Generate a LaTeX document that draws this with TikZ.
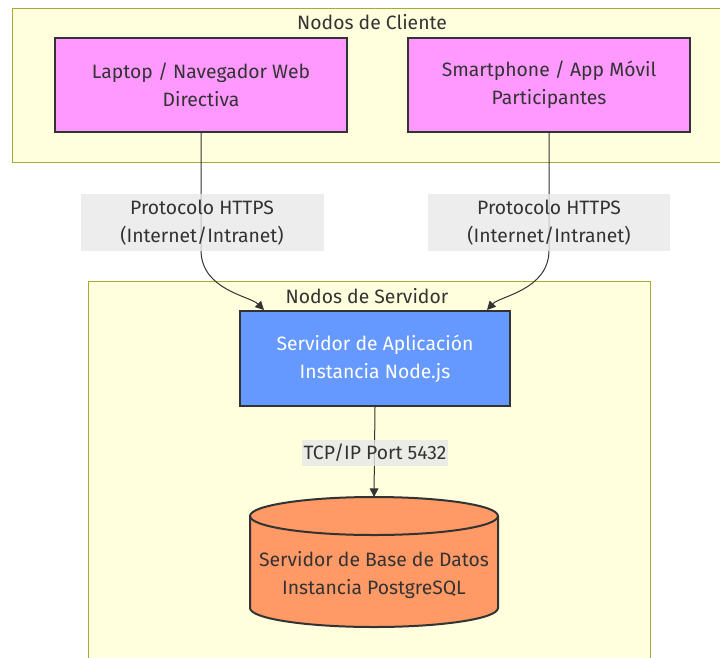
\documentclass[tikz,border=0pt]{standalone}
\usepackage{fontspec}
\setmainfont{Fira Sans}
\usetikzlibrary{arrows.meta,calc}
\definecolor{clusterfill}{HTML}{FFFFDE}
\definecolor{clusterline}{HTML}{AAAA33}
\definecolor{clientfill}{HTML}{FF99FF}
\definecolor{appfill}{HTML}{6699FF}
\definecolor{dbfill}{HTML}{FF9966}
\definecolor{darkline}{HTML}{333333}
\definecolor{labelfill}{HTML}{E8E8E8}
\tikzset{
  cluster/.style={draw=clusterline, fill=clusterfill, line width=0.75pt},
  title/.style={text=darkline, font=\fontsize{14.5}{21}\selectfont},
  boxnode/.style={draw=darkline, line width=1.5pt, align=center, text=darkline,
    font=\fontsize{14.5}{21}\selectfont, inner sep=0pt},
  edgelabel/.style={fill=labelfill, fill opacity=0.8, text opacity=1, text=darkline,
    align=center, inner sep=0pt, font=\fontsize{14.5}{21}\selectfont},
  flow/.style={draw=darkline, line width=0.75pt, -{Triangle[length=6.5pt,width=6.5pt]}}
}
\begin{document}
\begin{tikzpicture}[x=0.75pt,y=-0.75pt]
    \useasboundingbox (0,0) rectangle (720,657);
    %draw clusters
    \draw [cluster] (12,8) rectangle (740,162);
    \node [title] (clienttitle) at (372,22) {Nodos de Cliente};
    \draw [cluster] (88,281) rectangle (650,680);
    \node [title] (servertitle) at (367,296) {Nodos de Servidor};
    %draw nodes
    \node [boxnode,fill=clientfill,minimum width=219pt,minimum height=70.5pt] (laptop) at (201,85)
        {Laptop / Navegador Web\\Directiva};
    \node [boxnode,fill=clientfill,minimum width=211.5pt,minimum height=70.5pt] (phone) at (549,85)
        {Smartphone / App Móvil\\Participantes};
    \node [boxnode,fill=appfill,text=white,minimum width=202.5pt,minimum height=71.25pt] (app) at (375,358.5)
        {Servidor de Aplicación\\Instancia Node.js};
    %database cylinder
    \draw [darkline,line width=1.5pt,fill=dbfill] (250,516) -- (250,608)
        arc[start angle=180,end angle=360,x radius=93pt,y radius=14.25pt] -- (498,516)
        arc[start angle=0,end angle=180,x radius=93pt,y radius=14.25pt] -- cycle;
    \draw [darkline,line width=1.5pt] (250,516)
        arc[start angle=180,end angle=360,x radius=93pt,y radius=14.25pt];
    \coordinate (dbtop) at (374,497);
    \node [align=center,text=darkline,font=\fontsize{14.5}{21}\selectfont] (db) at (374,575.5)
        {Servidor de Base de Datos\\Instancia PostgreSQL};
    %draw edges
    \draw [flow] (laptop.south) -- (201,250) .. controls (201,290) and (250,296) .. ($(app.north west)+(25,0)$);
    \draw [flow] (phone.south) -- (549,250) .. controls (549,290) and (500,296) .. ($(app.north east)+(-24,0)$);
    \draw [flow] (app.south) -- (dbtop);
    %edge labels
    \node [edgelabel,minimum width=182.25pt,minimum height=42.75pt] (https1) at (202,222.5)
        {Protocolo HTTPS\\(Internet/Intranet)};
    \node [edgelabel,minimum width=181.5pt,minimum height=42.75pt] (https2) at (549,222.5)
        {Protocolo HTTPS\\(Internet/Intranet)};
    \node [edgelabel,minimum width=110pt,minimum height=20pt] (tcp) at (375,453)
        {TCP/IP Port 5432};
\end{tikzpicture}
\end{document}
